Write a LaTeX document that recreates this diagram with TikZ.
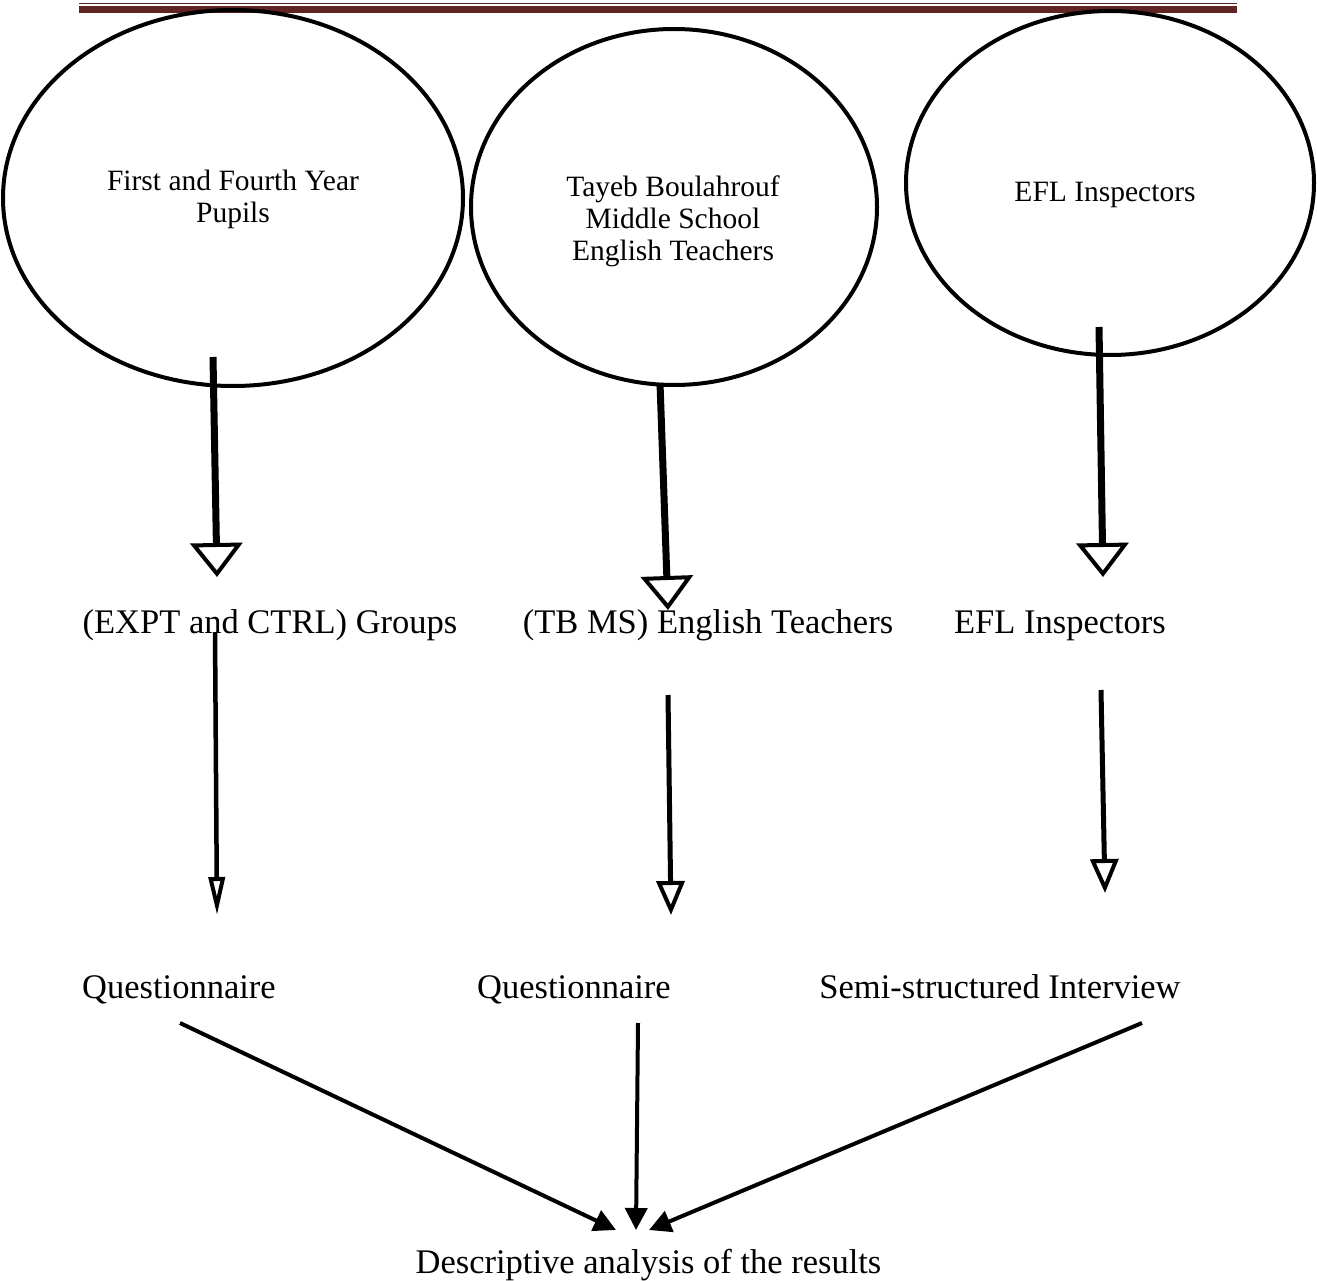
\documentclass[tikz,border=0pt]{standalone}
\usepackage{fontspec}
\setmainfont{Liberation Serif}
\usetikzlibrary{arrows.meta,shapes.geometric}
\definecolor{headred}{HTML}{622423}
\begin{document}
\begin{tikzpicture}[x=1pt,y=-1pt,
  group/.style={draw,line width=4pt,ellipse,inner sep=0pt},
  small/.style={align=center,font=\fontsize{29.5}{32}\selectfont},
  big/.style={anchor=base,font=\fontsize{34.5}{40}\selectfont},
  heavy/.style={line width=7pt,-{Triangle[open,length=34pt,width=52pt,line width=4pt]}},
  medium/.style={line width=4.5pt,-{Triangle[open,length=38pt,width=16pt,line width=4pt]}},
  lighter/.style={line width=5pt,-{Triangle[open,length=34pt,width=28pt,line width=4pt]}},
  joinarrow/.style={line width=4pt,-{Triangle[length=22pt,width=22pt]}}]
\useasboundingbox (0,0) rectangle (1317,1281);
% page header rules
\fill[headred] (79,3) rectangle (1237,4.3);
\fill[headred] (79,5.7) rectangle (1237,13.3);
% participant groups
\node[group,minimum width=460pt,minimum height=376pt] (e1) at (233,198) {};
\node[group,minimum width=406pt,minimum height=356pt] (e2) at (674,207) {};
\node[group,minimum width=408pt,minimum height=344pt] (e3) at (1110,183) {};
\node[small] (t1) at (233,199) {First and Fourth Year\\Pupils};
\node[small] (t2) at (673,221) {Tayeb Boulahrouf\\Middle School\\English Teachers};
\node[small] (t3) at (1105,195) {EFL Inspectors};
% samples
\node[big] (s1) at (270,633) {(EXPT and CTRL) Groups};
\node[big] (s2) at (708,633) {(TB MS) English Teachers};
\node[big] (s3) at (1060,633) {EFL Inspectors};
% instruments
\node[big] (i1) at (179,998) {Questionnaire};
\node[big] (i2) at (574,998) {Questionnaire};
\node[big] (i3) at (1000,998) {Semi-structured Interview};
% result
\node[big] (r) at (648.5,1273) {Descriptive analysis of the results};
% arrow end points
\coordinate (a1) at (213,357);  \coordinate (b1) at (217,577);
\coordinate (a2) at (660,383);  \coordinate (b2) at (668,610);
\coordinate (a3) at (1099,327); \coordinate (b3) at (1103,577);
\coordinate (c1) at (215,632);  \coordinate (d1) at (217,915);
\coordinate (c2) at (668,695);  \coordinate (d2) at (671,915);
\coordinate (c3) at (1101,690); \coordinate (d3) at (1105,893);
\coordinate (g1) at (180,1023); \coordinate (h1) at (616,1230);
\coordinate (g2) at (638,1023); \coordinate (h2) at (636,1230);
\coordinate (g3) at (1142,1023);\coordinate (h3) at (649,1230);
\draw[heavy] (a1) -- (b1);
\draw[heavy] (a2) -- (b2);
\draw[heavy] (a3) -- (b3);
\draw[medium] (c1) -- (d1);
\draw[lighter] (c2) -- (d2);
\draw[lighter] (c3) -- (d3);
\draw[joinarrow] (g1) -- (h1);
\draw[joinarrow] (g2) -- (h2);
\draw[joinarrow] (g3) -- (h3);
\end{tikzpicture}
\end{document}
